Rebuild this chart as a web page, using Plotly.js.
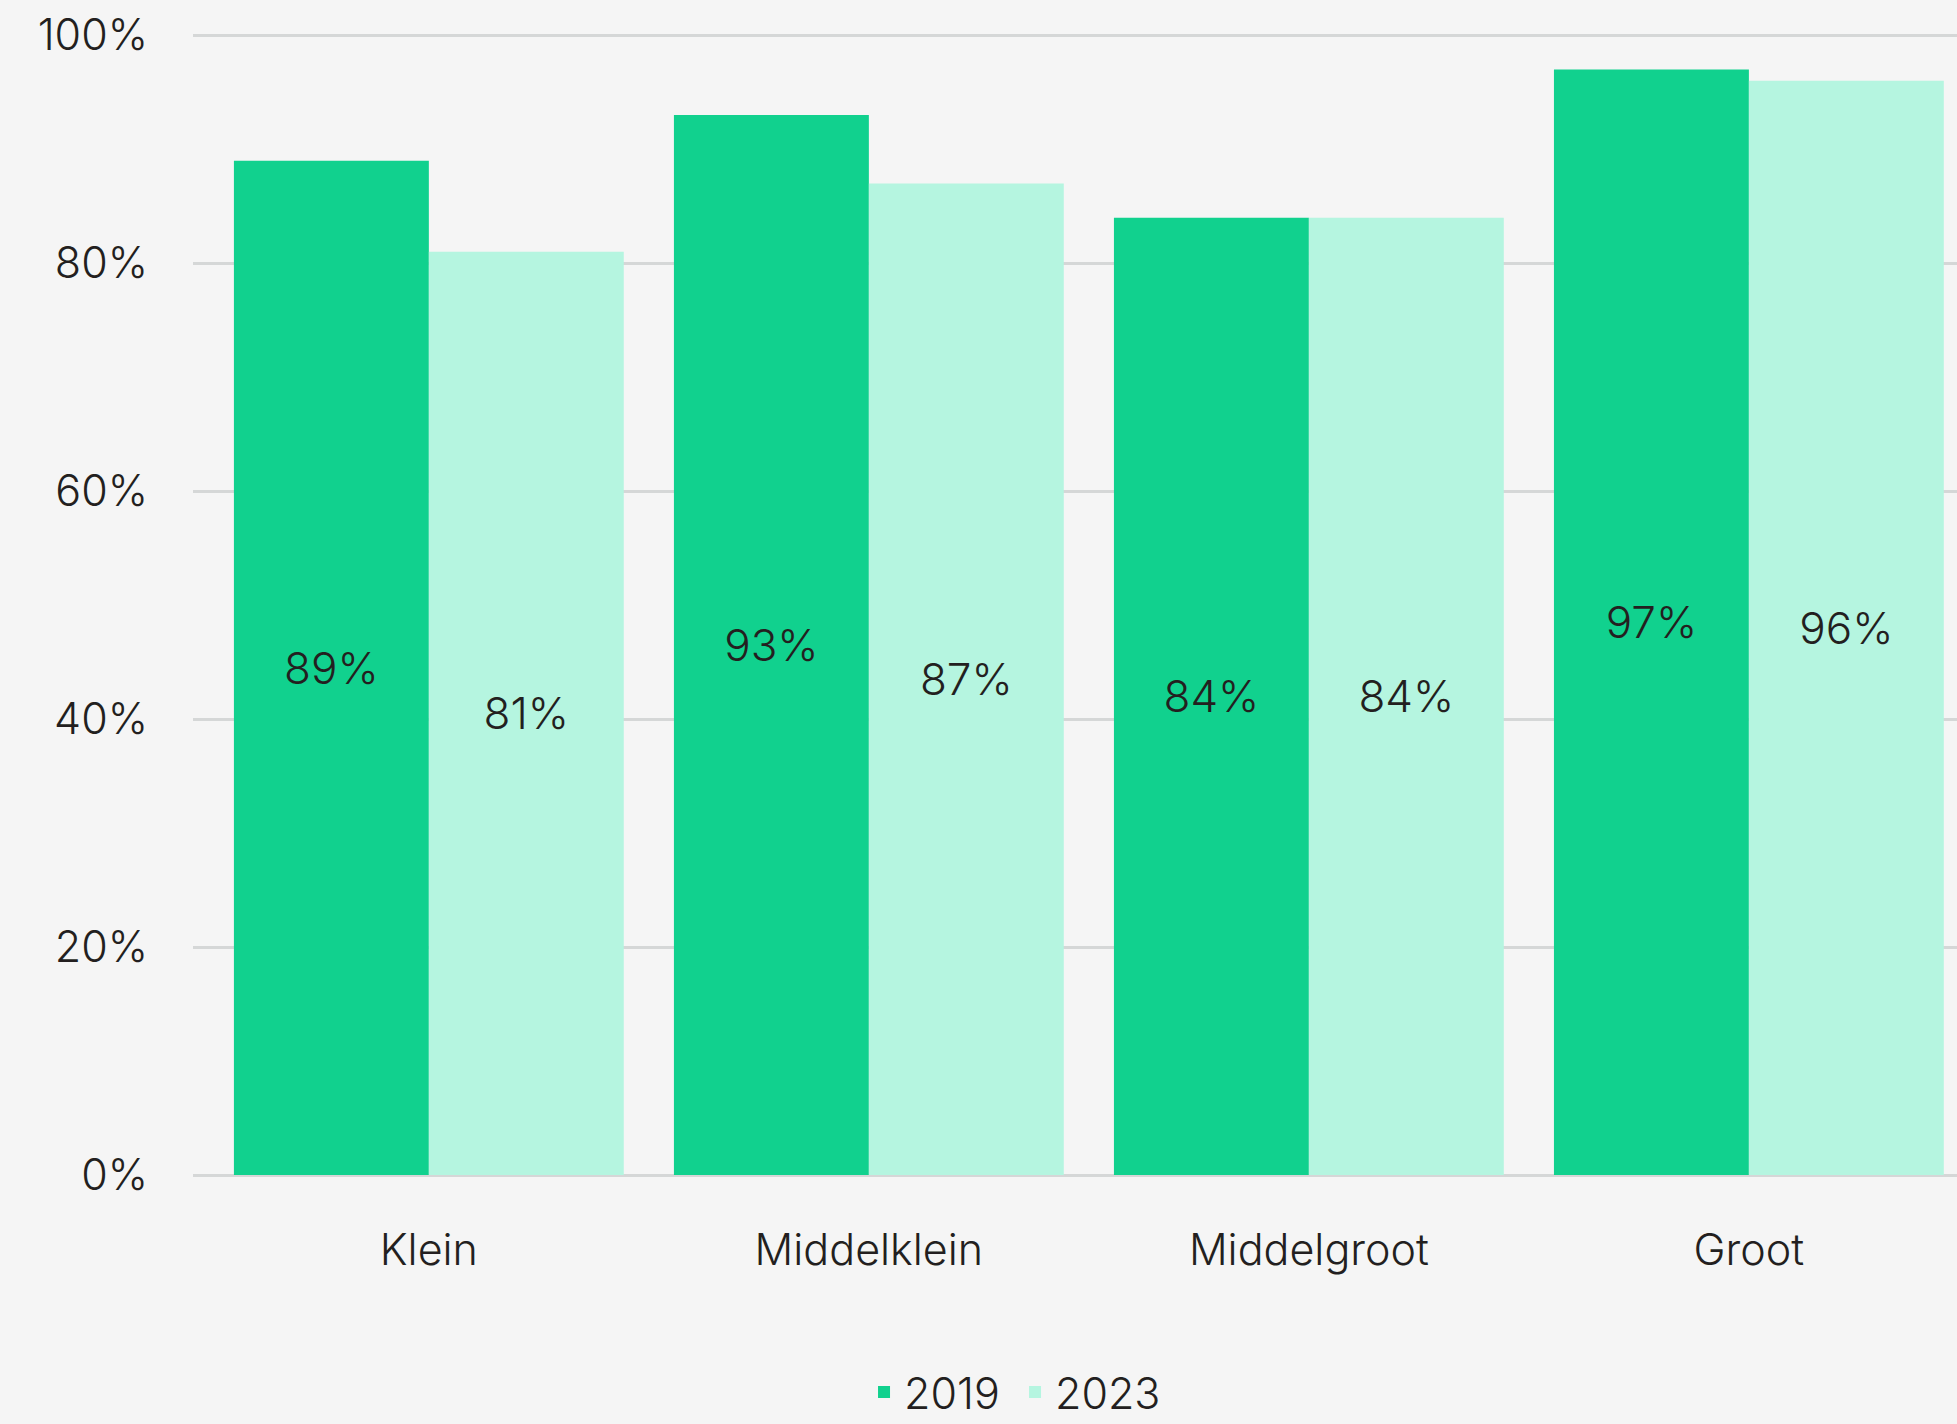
<!DOCTYPE html>
<html>
<head>
<meta charset="utf-8">
<script src="https://cdn.plot.ly/plotly-3.0.1.min.js"></script>
<style>
html,body{margin:0;padding:0;background:#f5f5f5;}
#chart{width:1957px;height:1424px;}
</style>
</head>
<body>
<div id="chart"></div>
<script>
const categories = ["Klein", "Middelklein", "Middelgroot", "Groot"];
const values2019 = [89, 93, 84, 97];
const values2023 = [81, 87, 84, 96];
const seriesNames = ["2019", "2023"];
const yTickVals = [0, 20, 40, 60, 80, 100];
const yTickText = ["0%", "20%", "40%", "60%", "80%", "100%"];

const fontFamily = "Inter, 'Noto Sans', sans-serif";
const textColor = "#231f20";

function labels(arr){ return arr.map(v => v + "%"); }

const traces = [
  {
    type: "bar", name: seriesNames[0], x: categories, y: values2019,
    text: labels(values2019), textposition: "inside", insidetextanchor: "middle",
    textfont: {family: fontFamily, size: 44, color: textColor, weight: 300},
    marker: {color: "#11d18e"}, hoverinfo: "none"
  },
  {
    type: "bar", name: seriesNames[1], x: categories, y: values2023,
    text: labels(values2023), textposition: "inside", insidetextanchor: "middle",
    textfont: {family: fontFamily, size: 44, color: textColor, weight: 300},
    marker: {color: "#b5f5e0"}, hoverinfo: "none"
  }
];

const layout = {
  width: 1957, height: 1424,
  paper_bgcolor: "#f5f5f5", plot_bgcolor: "#f5f5f5",
  margin: {l: 193, r: 0, t: 33, b: 249, pad: 0, autoexpand: false},
  barmode: "group", bargap: 0.114, bargroupgap: 0,
  font: {family: fontFamily, color: textColor, size: 42, weight: 300},
  xaxis: {
    range: [-0.536, 3.473], showgrid: false, zeroline: false, showline: false,
    ticks: "", tickfont: {family: fontFamily, size: 43, color: textColor, weight: 300},
    ticklabelstandoff: 46, fixedrange: true
  },
  yaxis: {
    range: [0, 100.2], tickvals: yTickVals, ticktext: yTickText,
    showgrid: true, gridcolor: "#d5d7d7", gridwidth: 3,
    zeroline: true, zerolinecolor: "#d5d7d7", zerolinewidth: 3,
    showline: false, ticks: "",
    tickfont: {family: fontFamily, size: 43, color: textColor, weight: 300},
    ticklabelstandoff: 44, fixedrange: true
  },
  showlegend: true,
  legend: {
    orientation: "h", x: 0.466, xanchor: "center", y: -0.19, yanchor: "middle",
    font: {family: fontFamily, size: 43, color: textColor, weight: 300},
    bgcolor: "rgba(0,0,0,0)", itemsizing: "constant", entrywidth: 106
  }
};

Plotly.newPlot("chart", traces, layout, {displayModeBar: false, staticPlot: true});
</script>
</body>
</html>
